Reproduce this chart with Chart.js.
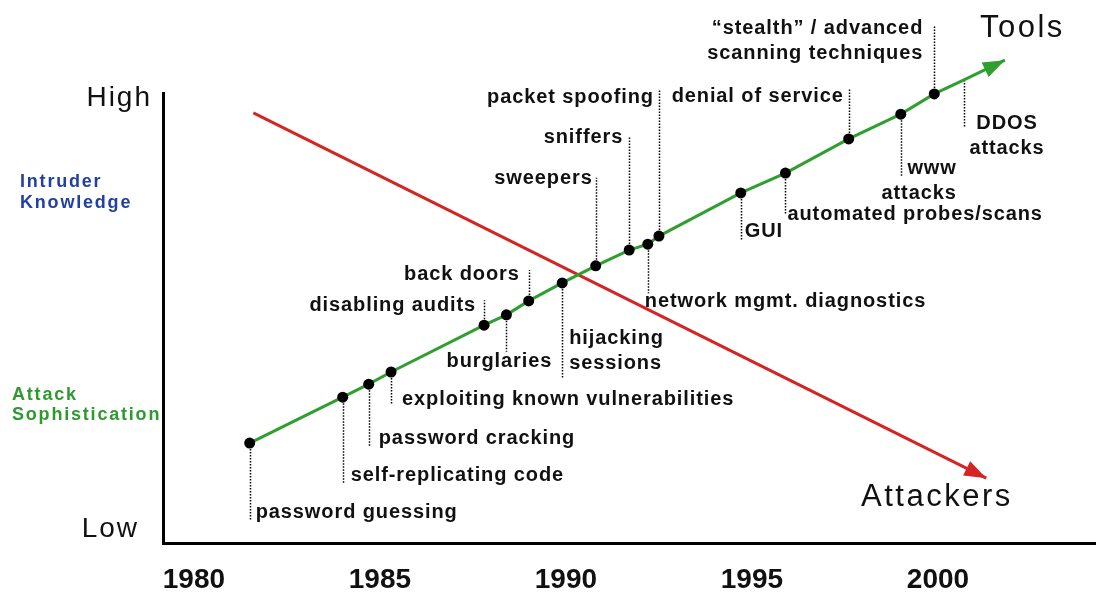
<!DOCTYPE html>
<html>
<head>
<meta charset="utf-8">
<script src="https://cdn.jsdelivr.net/npm/chart.js@4"></script>
<style>
  html, body { margin: 0; padding: 0; background: #fff; }
  #wrap { width: 1096px; height: 593px; }
</style>
</head>
<body>
<div id="wrap"><canvas id="attackChart" width="1096" height="593"></canvas></div>
<script>
// events on the "Tools" line (year, attack sophistication 0-100)
const events = [
    'password guessing', 'self-replicating code', 'password cracking',
    'exploiting known vulnerabilities', 'disabling audits', 'burglaries',
    'back doors', 'hijacking\nsessions', 'sweepers', 'sniffers',
    'network mgmt. diagnostics', 'packet spoofing', 'GUI',
    'automated probes/scans', 'denial of service', 'www\nattacks',
    '\u201cstealth\u201d / advanced\nscanning techniques', 'DDOS\nattacks'
];
const eventYears = [1981.5, 1984.0, 1984.7, 1985.3, 1987.8, 1988.4, 1989.0, 1989.9, 1990.8,
    1991.7, 1992.2, 1992.5, 1994.7, 1995.9, 1997.6, 1999.0, 1999.9, 2000.7];
const sophistication = [22.2, 32.4, 35.3, 38.0, 48.4, 50.7, 53.8, 57.8, 61.6,
    65.1, 66.4, 68.2, 77.8, 82.2, 89.8, 95.3, 99.8, 102.9];
const toolsArrowYear = 2001.8;
const toolsArrowLevel = 107.3;

// the "Attackers" line (intruder knowledge going down)
const attackerYears = [1981.6, 2001.3];
const attackerKnowledge = [95.6, 14.4];

const xTicks = [1980, 1985, 1990, 1995, 2000];

// label placement: leader length (px, negative = up), text offset, alignment
const labelLayout = [
    { lead: 77, dx: 6, dy: 70, align: 'left' },
    { lead: 87, dx: 8, dy: 79, align: 'left' },
    { lead: 62, dx: 10, dy: 55, align: 'left' },
    { lead: 33, dx: 11, dy: 28, align: 'left' },
    { lead: -25, dx: -8, dy: -19, align: 'right' },
    { lead: 37, dx: -7, dy: 48, align: 'center' },
    { lead: -31, dx: -9, dy: -25, align: 'right' },
    { lead: 95, dx: 7, dy: 57, align: 'left' },
    { lead: -88, dx: -3, dy: -86, align: 'right' },
    { lead: -113, dx: -6, dy: -112, align: 'right' },
    { lead: 49, dx: -3, dy: 58, align: 'left' },
    { lead: -146, dx: -5, dy: -138, align: 'right' },
    { lead: 47, dx: 4, dy: 40, align: 'left' },
    { lead: 42, dx: 2, dy: 42, align: 'left' },
    { lead: -51, dx: -5, dy: -41, align: 'right' },
    { lead: 63, dx: 56, dy: 55, align: 'right' },
    { lead: -69, dx: -11, dy: -64, align: 'right' },
    { lead: 47, dx: 43, dy: 45, align: 'center' }
];

const GREEN = '#2f9f2f';
const RED = '#d42424';
const FONT = "'Liberation Sans', Arial, sans-serif";

function arrowHead(ctx, x1, y1, x2, y2, len, half, color) {
    const a = Math.atan2(y2 - y1, x2 - x1);
    ctx.save();
    ctx.fillStyle = color;
    ctx.beginPath();
    ctx.moveTo(x2, y2);
    ctx.lineTo(x2 - len * Math.cos(a) + half * Math.sin(a), y2 - len * Math.sin(a) - half * Math.cos(a));
    ctx.lineTo(x2 - len * Math.cos(a) - half * Math.sin(a), y2 - len * Math.sin(a) + half * Math.cos(a));
    ctx.closePath();
    ctx.fill();
    ctx.restore();
}

function write(ctx, text, x, y, align, gap) {
    ctx.textAlign = align;
    text.split('\n').forEach((t, i) => ctx.fillText(t, x, y + i * gap));
}

const annotate = {
    id: 'annotate',
    beforeDatasetsDraw(chart) {
        const ctx = chart.ctx, xs = chart.scales.x, ys = chart.scales.y;
        const area = chart.chartArea;
        ctx.save();
        // x axis runs on to the edge of the picture
        ctx.strokeStyle = '#000';
        ctx.lineWidth = 3;
        const by = Math.round(area.bottom - 1.5) + 1.5;
        ctx.beginPath();
        ctx.moveTo(area.right - 10, by);
        ctx.lineTo(chart.width, by);
        ctx.stroke();

        ctx.lineWidth = 1.5;
        ctx.setLineDash([1.5, 1.5]);
        events.forEach((e, i) => {
            const px = Math.round(xs.getPixelForValue(eventYears[i])) + 0.5;
            const py = ys.getPixelForValue(sophistication[i]);
            ctx.beginPath();
            ctx.moveTo(px, py);
            ctx.lineTo(px, py + labelLayout[i].lead);
            ctx.stroke();
        });
        ctx.restore();
    },
    afterDatasetsDraw(chart) {
        const ctx = chart.ctx, xs = chart.scales.x, ys = chart.scales.y;
        const n = eventYears.length;
        // arrow heads
        arrowHead(ctx, xs.getPixelForValue(eventYears[n - 1]), ys.getPixelForValue(sophistication[n - 1]),
            xs.getPixelForValue(toolsArrowYear), ys.getPixelForValue(toolsArrowLevel), 22, 8, GREEN);
        arrowHead(ctx, xs.getPixelForValue(attackerYears[0]), ys.getPixelForValue(attackerKnowledge[0]),
            xs.getPixelForValue(attackerYears[1]), ys.getPixelForValue(attackerKnowledge[1]), 22, 8, RED);

        ctx.save();
        ctx.fillStyle = '#111';
        ctx.textBaseline = 'middle';
        ctx.font = 'bold 20px ' + FONT;
        ctx.letterSpacing = '0.9px';
        events.forEach((e, i) => {
            const L = labelLayout[i];
            const px = xs.getPixelForValue(eventYears[i]);
            const py = ys.getPixelForValue(sophistication[i]);
            write(ctx, e, px + L.dx, py + L.dy - 1, L.align, 25);
        });

        // line names and axis words
        ctx.textBaseline = 'alphabetic';
        ctx.font = '31px ' + FONT;
        ctx.letterSpacing = '2.5px';
        ctx.textAlign = 'left';
        ctx.fillText('Tools', 980, 37);
        ctx.fillText('Attackers', 861, 506);
        ctx.font = '28px ' + FONT;
        ctx.letterSpacing = '2px';
        ctx.textAlign = 'right';
        ctx.fillText('High', 152, 106);
        ctx.fillText('Low', 139, 537);

        ctx.font = 'bold 18px ' + FONT;
        ctx.letterSpacing = '1.8px';
        ctx.textAlign = 'left';
        ctx.fillStyle = '#2140a6';
        ctx.fillText('Intruder', 20, 187);
        ctx.fillText('Knowledge', 20, 208);
        ctx.fillStyle = '#2e9a2e';
        ctx.fillText('Attack', 12, 400);
        ctx.fillText('Sophistication', 12, 420);
        ctx.restore();
    }
};

const toolsData = eventYears.map((yr, i) => ({ x: yr, y: sophistication[i] }));
toolsData.push({ x: toolsArrowYear, y: toolsArrowLevel });
const attackersData = attackerYears.map((yr, i) => ({ x: yr, y: attackerKnowledge[i] }));

new Chart(document.getElementById('attackChart'), {
    type: 'line',
    data: {
        datasets: [{
            label: 'Tools',
            data: toolsData,
            borderColor: GREEN,
            borderWidth: 3,
            pointRadius: ctx => ctx.dataIndex < eventYears.length ? 5.5 : 0,
            pointBackgroundColor: '#000',
            pointBorderColor: '#000',
            pointBorderWidth: 0,
            tension: 0,
            clip: false
        }, {
            label: 'Attackers',
            data: attackersData,
            borderColor: RED,
            borderWidth: 3,
            pointRadius: 0,
            tension: 0,
            clip: false
        }]
    },
    options: {
        responsive: false,
        animation: false,
        devicePixelRatio: 1,
        layout: { padding: { top: 93, right: 0, left: 0, bottom: 0 } },
        plugins: { legend: { display: false }, tooltip: { enabled: false } },
        scales: {
            x: {
                type: 'linear',
                min: 1979.17,
                max: 2004.1,
                afterFit: s => { s.height = 50; },
                afterBuildTicks: s => { s.ticks = xTicks.map(v => ({ value: v })); },
                grid: { display: false, drawTicks: false },
                border: { display: true, color: '#000', width: 3 },
                ticks: {
                    autoSkip: false,
                    maxRotation: 0,
                    padding: 20,
                    color: '#111',
                    font: { family: FONT, size: 28, weight: 'bold' },
                    callback: v => String(v)
                }
            },
            y: {
                type: 'linear',
                min: 0,
                max: 100,
                afterFit: s => { s.width = 163; },
                grid: { display: false, drawTicks: false },
                border: { display: true, color: '#000', width: 3 },
                ticks: { display: false }
            }
        }
    },
    plugins: [annotate]
});
</script>
</body>
</html>
